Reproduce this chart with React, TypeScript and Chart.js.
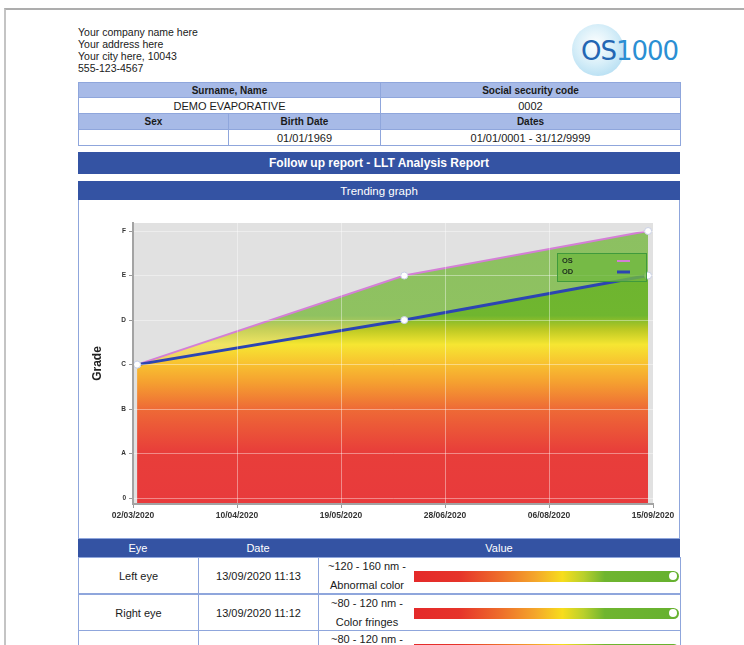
import React, { useEffect, useRef } from 'react';
import { Chart, registerables } from 'chart.js';
Chart.register(...registerables);

// ---------- data ----------
const companyLines = ['Your company name here', 'Your address here', 'Your city here, 10043', '555-123-4567'];
const infoHeaders1 = ['Surname, Name', 'Social security code'];
const infoValues1 = ['DEMO EVAPORATIVE', '0002'];
const infoHeaders2 = ['Sex', 'Birth Date', 'Dates'];
const infoValues2 = ['', '01/01/1969', '01/01/0001 - 31/12/9999'];
const reportTitle = 'Follow up report - LLT Analysis Report';
const sectionTitle = 'Trending graph';

const xTickLabels = ['02/03/2020', '10/04/2020', '19/05/2020', '28/06/2020', '06/08/2020', '15/09/2020'];
const yTickLabels = ['0', 'A', 'B', 'C', 'D', 'E', 'F'];
const yTickValues = [0, 1, 2, 3, 4, 5, 6];
const visitDays = [0, 103, 197]; // days since 02/03/2020
const osGrades = [3, 5, 6];
const odGrades = [3, 4, 5];
const seriesLabels = ['OS', 'OD'];
const axisTitle = 'Grade';

const tableHeaders = ['Eye', 'Date', 'Value'];
const tableEyes = ['Left eye', 'Right eye', 'Left eye'];
const tableDates = ['13/09/2020 11:13', '13/09/2020 11:12', '13/09/2020 11:10'];
const tableValueLine1 = ['~120 - 160 nm -', '~80 - 120 nm -', '~80 - 120 nm -'];
const tableValueLine2 = ['Abnormal color', 'Color fringes', 'Color fringes'];

// ---------- style ----------
const FONT = "'Liberation Sans', Arial, sans-serif";
const DARK = '#3453a3';
const LIGHT = '#a7bae7';
const BORDER = '#8fa6dc';
const X_MIN = -1.6;
const X_MAX = 198.9;
const Y_MIN = -0.13;
const Y_MAX = 6.18;
const gradStops: [number, string][] = [
  [-0.2, '232,58,60'],
  [1.05, '232,62,58'],
  [2.0, '238,106,54'],
  [2.6, '245,160,48'],
  [3.05, '248,196,48'],
  [3.45, '246,230,50'],
  [3.8, '186,200,35'],
  [4.1, '112,182,47'],
  [6.3, '106,179,48'],
];

function makeGradient(chart: any, alpha: number) {
  const { ctx, chartArea, scales } = chart;
  if (!chartArea || !scales.y) return 'rgba(0,0,0,0)';
  const y = scales.y;
  const v0 = gradStops[0][0];
  const v1 = gradStops[gradStops.length - 1][0];
  const g = ctx.createLinearGradient(0, y.getPixelForValue(v0), 0, y.getPixelForValue(v1));
  gradStops.forEach(([v, c]) => g.addColorStop((v - v0) / (v1 - v0), `rgba(${c},${alpha})`));
  return g;
}

const bgPlugin = {
  id: 'plotBg',
  beforeDraw(chart: any) {
    const { ctx, chartArea: a } = chart;
    ctx.save();
    ctx.fillStyle = '#e1e1e1';
    ctx.fillRect(a.left, a.top, a.right - a.left, a.bottom - a.top);
    ctx.restore();
  },
};

const legendPlugin = {
  id: 'boxLegend',
  afterDraw(chart: any) {
    const { ctx, chartArea: a } = chart;
    const x0 = a.right - 96;
    const y0 = a.top + 30;
    const w = 90;
    const h = 29;
    ctx.save();
    ctx.fillStyle = 'rgba(112,184,64,0.8)';
    ctx.fillRect(x0, y0, w, h);
    ctx.strokeStyle = '#3f9a3c';
    ctx.lineWidth = 1;
    ctx.strokeRect(x0 + 0.5, y0 + 0.5, w - 1, h - 1);
    ctx.font = `bold 7.5px ${FONT}`;
    ctx.fillStyle = '#203020';
    ctx.textBaseline = 'middle';
    chart.data.datasets.forEach((ds: any, i: number) => {
      const yy = y0 + 8 + i * 11;
      ctx.fillText(ds.label, x0 + 5, yy);
      ctx.strokeStyle = ds.borderColor;
      ctx.lineWidth = i === 0 ? 2 : 3;
      ctx.beginPath();
      ctx.moveTo(x0 + 60, yy);
      ctx.lineTo(x0 + 73, yy);
      ctx.stroke();
    });
    ctx.restore();
  },
};

function TrendChart() {
  const ref = useRef<HTMLCanvasElement>(null);
  useEffect(() => {
    if (!ref.current) return;
    const pointStyle = {
      pointRadius: 3.5,
      pointBackgroundColor: '#ffffff',
      pointBorderColor: '#c9d0e6',
      pointBorderWidth: 1,
    };
    const chart = new Chart(ref.current, {
      type: 'line',
      data: {
        datasets: [
          {
            label: seriesLabels[0],
            data: visitDays.map((d, i) => ({ x: d, y: osGrades[i] })),
            borderColor: '#d47fd6',
            borderWidth: 2,
            fill: 'start',
            backgroundColor: (c: any) => makeGradient(c.chart, 0.72),
            order: 2,
            tension: 0,
            ...pointStyle,
          },
          {
            label: seriesLabels[1],
            data: visitDays.map((d, i) => ({ x: d, y: odGrades[i] })),
            borderColor: '#2c45b2',
            borderWidth: 3,
            fill: 'start',
            backgroundColor: (c: any) => makeGradient(c.chart, 1),
            order: 1,
            tension: 0,
            ...pointStyle,
          },
        ],
      },
      options: {
        animation: false,
        responsive: false,
        maintainAspectRatio: false,
        layout: { padding: { left: 0, top: 21, right: 25, bottom: 0 } },
        plugins: { legend: { display: false }, tooltip: { enabled: false }, filler: { drawTime: 'beforeDatasetsDraw' } as any },
        scales: {
          x: {
            type: 'linear',
            min: X_MIN,
            max: X_MAX,
            afterBuildTicks: (s: any) => {
              s.ticks = xTickLabels.map((_, i) => ({ value: X_MIN + (i * (X_MAX - X_MIN)) / (xTickLabels.length - 1) }));
            },
            afterFit: (s: any) => {
              s.height = 30;
            },
            ticks: {
              callback: (_v: any, i: number) => xTickLabels[i],
              font: { family: FONT, size: 8.5, weight: 'bold' },
              color: '#333',
              maxRotation: 0,
              autoSkip: false,
              padding: 3,
            },
            grid: { color: 'rgba(255,255,255,0.4)', z: 1, tickLength: 4, tickColor: '#999' },
            border: { color: '#a3a3a3', width: 2, z: 1 },
          },
          y: {
            type: 'linear',
            min: Y_MIN,
            max: Y_MAX,
            afterBuildTicks: (s: any) => {
              s.ticks = yTickValues.map((v) => ({ value: v }));
            },
            afterFit: (s: any) => {
              s.width = 53;
            },
            ticks: {
              callback: (_v: any, i: number) => yTickLabels[i],
              font: { family: FONT, size: 6.5, weight: 'bold' },
              color: '#333',
              padding: 3,
            },
            title: {
              display: true,
              text: axisTitle,
              font: { family: FONT, size: 12, weight: 'bold' },
              color: '#222',
              padding: { top: 10, bottom: 0 },
            },
            grid: { color: 'rgba(255,255,255,0.4)', z: 1, tickLength: 4, tickColor: '#999' },
            border: { color: '#a3a3a3', width: 2, z: 1 },
          },
        },
      } as any,
      plugins: [bgPlugin, legendPlugin],
    });
    return () => chart.destroy();
  }, []);
  return (
    <canvas
      ref={ref}
      width={598}
      height={332}
      style={{ position: 'absolute', left: 80, top: 202, width: 598, height: 332 }}
    />
  );
}

function Cell(props: { x: number; y: number; w: number; h: number; bg?: string; bold?: boolean; color?: string; size?: number; children?: any }) {
  const { x, y, w, h, bg = '#fff', bold, color = '#1a1a1a', size = 10.5, children } = props;
  return (
    <div
      style={{
        position: 'absolute',
        left: x,
        top: y,
        width: w + 1,
        height: h + 1,
        background: bg,
        border: `1px solid ${BORDER}`,
        boxSizing: 'border-box',
        display: 'flex',
        alignItems: 'center',
        justifyContent: 'center',
        fontFamily: FONT,
        fontSize: size,
        fontWeight: bold ? 'bold' : 'normal',
        color,
        whiteSpace: 'nowrap',
        overflow: 'hidden',
      }}
    >
      {children}
    </div>
  );
}

function Logo() {
  return (
    <div style={{ position: 'absolute', left: 568, top: 22, width: 115, height: 58 }}>
      <div
        style={{
          position: 'absolute',
          left: 4,
          top: 2,
          width: 52,
          height: 52,
          borderRadius: '50%',
          background: 'radial-gradient(circle at 45% 40%, rgba(255,255,255,0.9) 0%, rgba(200,232,246,0.7) 45%, rgba(130,200,234,0.55) 75%, rgba(170,220,242,0.12) 100%)',
        }}
      />
      <div
        style={{
          position: 'absolute',
          left: 13,
          top: 14,
          fontFamily: "'DejaVu Sans', sans-serif",
          fontSize: 26,
          letterSpacing: -1,
          lineHeight: '30px',
          color: '#2b8fd3',
        }}
      >
        <span style={{ color: '#2466b3' }}>OS</span>
        <span>1000</span>
      </div>
    </div>
  );
}

export default function App() {
  const rowTops = [557, 594, 630];
  const rowH = 36;
  return (
    <div style={{ position: 'fixed', left: 0, top: 0, width: 744, height: 645, overflow: 'hidden', background: '#fff', fontFamily: FONT }}>
      {/* page frame */}
      <div style={{ position: 'absolute', left: 4, top: 8, width: 760, height: 700, borderTop: '2px solid #adadad', borderLeft: '2px solid #c4c4c4' }} />
      {/* company header */}
      <div style={{ position: 'absolute', left: 78, top: 26, fontSize: 10.5, lineHeight: '12px', color: '#1a1a1a' }}>
        {companyLines.map((l) => (
          <div key={l}>{l}</div>
        ))}
      </div>
      <Logo />
      {/* info table */}
      <Cell x={78} y={82} w={302} h={15} bg={LIGHT} bold size={10}>{infoHeaders1[0]}</Cell>
      <Cell x={380} y={82} w={300} h={15} bg={LIGHT} bold size={10}>{infoHeaders1[1]}</Cell>
      <Cell x={78} y={97} w={302} h={16} size={11}>{infoValues1[0]}</Cell>
      <Cell x={380} y={97} w={300} h={16} size={11}>{infoValues1[1]}</Cell>
      <Cell x={78} y={113} w={150} h={16} bg={LIGHT} bold size={10}>{infoHeaders2[0]}</Cell>
      <Cell x={228} y={113} w={152} h={16} bg={LIGHT} bold size={10}>{infoHeaders2[1]}</Cell>
      <Cell x={380} y={113} w={300} h={16} bg={LIGHT} bold size={10}>{infoHeaders2[2]}</Cell>
      <Cell x={78} y={129} w={150} h={16} size={11}>{infoValues2[0]}</Cell>
      <Cell x={228} y={129} w={152} h={16} size={11}>{infoValues2[1]}</Cell>
      <Cell x={380} y={129} w={300} h={16} size={11}>{infoValues2[2]}</Cell>
      {/* report title */}
      <div style={{ position: 'absolute', left: 78, top: 152, width: 602, height: 22, background: DARK, color: '#fff', fontWeight: 'bold', fontSize: 12, display: 'flex', alignItems: 'center', justifyContent: 'center' }}>
        {reportTitle}
      </div>
      {/* chart section */}
      <div style={{ position: 'absolute', left: 78, top: 181, width: 602, height: 358, border: `1px solid ${BORDER}`, boxSizing: 'border-box', background: '#fff' }} />
      <div style={{ position: 'absolute', left: 78, top: 181, width: 602, height: 19, background: DARK, color: '#fff', fontSize: 11.5, display: 'flex', alignItems: 'center', justifyContent: 'center' }}>
        {sectionTitle}
      </div>
      <TrendChart />
      {/* results table */}
      <div style={{ position: 'absolute', left: 78, top: 539, width: 602, height: 18, background: DARK, color: '#fff', fontSize: 11 }}>
        <div style={{ position: 'absolute', left: 0, width: 120, top: 0, height: 18, display: 'flex', alignItems: 'center', justifyContent: 'center' }}>{tableHeaders[0]}</div>
        <div style={{ position: 'absolute', left: 120, width: 120, top: 0, height: 18, display: 'flex', alignItems: 'center', justifyContent: 'center' }}>{tableHeaders[1]}</div>
        <div style={{ position: 'absolute', left: 240, width: 362, top: 0, height: 18, display: 'flex', alignItems: 'center', justifyContent: 'center' }}>{tableHeaders[2]}</div>
      </div>
      {tableEyes.map((eye, i) => (
        <React.Fragment key={i}>
          <Cell x={78} y={rowTops[i]} w={120} h={rowH} size={11}>{eye}</Cell>
          <Cell x={198} y={rowTops[i]} w={120} h={rowH} size={11}>{tableDates[i]}</Cell>
          <Cell x={318} y={rowTops[i]} w={362} h={rowH} size={11}>
            <div style={{ position: 'absolute', left: 2, top: 0, width: 92, height: rowH, display: 'flex', flexDirection: 'column', justifyContent: 'center', alignItems: 'center', lineHeight: '19px' }}>
              <div>{tableValueLine1[i]}</div>
              <div>{tableValueLine2[i]}</div>
            </div>
            <div
              style={{
                position: 'absolute',
                left: 95,
                top: 12.5,
                width: 265,
                height: 11,
                borderRadius: '0 6px 6px 0',
                background: 'linear-gradient(to right, #e42a2a 0%, #e6332a 17%, #ee6f2b 33%, #f4a72b 46%, #f7dd1c 56%, #b9d02c 64%, #6fb52f 72%, #66b12f 100%)',
              }}
            >
              <div style={{ position: 'absolute', right: 2, top: 1.5, width: 8, height: 8, borderRadius: '50%', background: '#fff' }} />
            </div>
          </Cell>
        </React.Fragment>
      ))}
    </div>
  );
}
